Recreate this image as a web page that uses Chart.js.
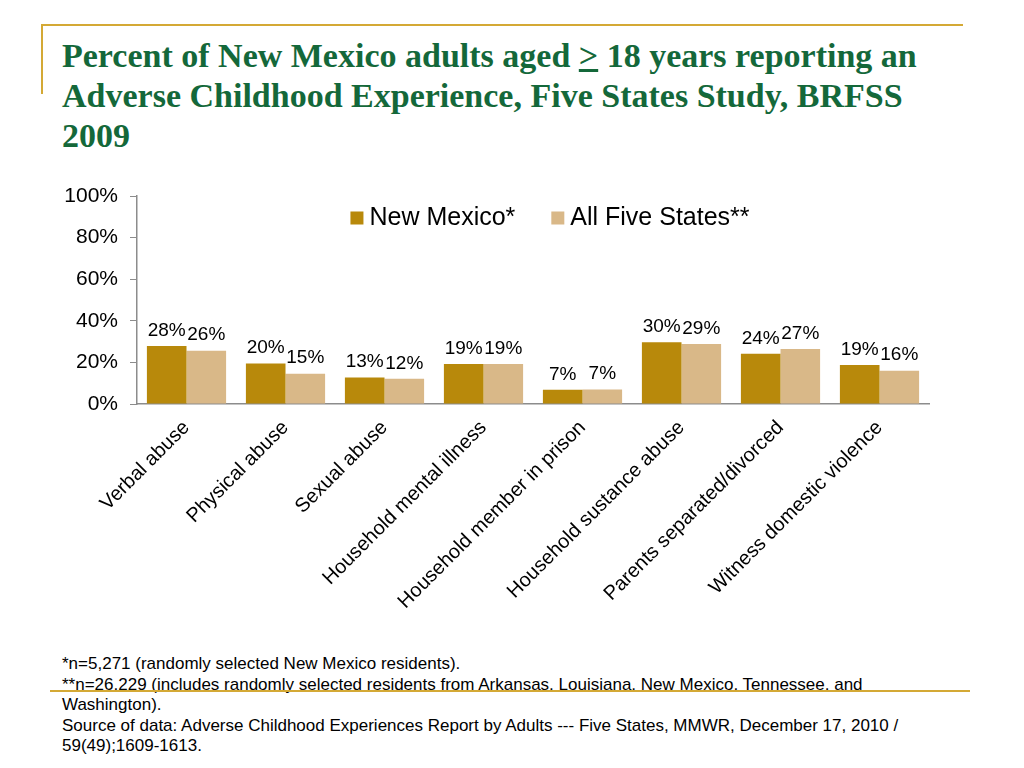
<!DOCTYPE html>
<html>
<head>
<meta charset="utf-8">
<script src="https://cdn.jsdelivr.net/npm/chart.js@4"></script>
<style>
  body { margin: 0; width: 1024px; height: 768px; background: #fff; position: relative; overflow: hidden; font-family: "Liberation Sans", Arial, sans-serif; }
  .gold { position: absolute; background: #d4a935; }
  #title { position: absolute; left: 62px; top: 36px; font-family: "Liberation Serif", "Times New Roman", serif; font-weight: bold; font-size: 34px; line-height: 40px; color: #14683a; white-space: nowrap; }
  #chartBox { position: absolute; left: 0; top: 170px; width: 1024px; height: 450px; }
  #notes { position: absolute; left: 62px; top: 654px; font-size: 17px; line-height: 20.5px; color: #000; white-space: nowrap; }
</style>
</head>
<body>
<div class="gold" style="left:42px; top:24px; width:921px; height:2px;"></div>
<div class="gold" style="left:41px; top:24px; width:2px; height:70px;"></div>

<div id="title">Percent of New Mexico adults aged <u>&gt;</u> 18 years reporting an<br>Adverse Childhood Experience, Five States Study, BRFSS<br>2009</div>

<div id="chartBox"><canvas id="aceChart"></canvas></div>

<div id="notes">*n=5,271 (randomly selected New Mexico residents).<br>**n=26,229 (includes randomly selected residents from Arkansas, Louisiana, New Mexico, Tennessee, and<br>Washington).<br>Source of data: Adverse Childhood Experiences Report by Adults --- Five States, MMWR, December 17, 2010 /<br>59(49);1609-1613.</div>

<div class="gold" style="left:50px; top:690px; width:920px; height:2px; z-index:2;"></div>

<script>
// data
const categories = ['Verbal abuse', 'Physical abuse', 'Sexual abuse', 'Household mental illness',
    'Household member in prison', 'Household sustance abuse', 'Parents separated/divorced', 'Witness domestic violence'];
const newMexico = [27.9, 19.5, 12.7, 19.2, 6.8, 29.7, 24.1, 18.7];
const fiveStates = [25.6, 14.6, 12.1, 19.2, 7.0, 28.9, 26.5, 16.0];
const yTicks = [0, 20, 40, 60, 80, 100];

const fontFamily = '"Liberation Sans", Arial, sans-serif';

// % labels above every bar
const barLabels = {
    id: 'barLabels',
    afterDatasetsDraw(chart) {
        const ctx = chart.ctx;
        ctx.save();
        ctx.font = '19px ' + fontFamily;
        ctx.fillStyle = '#000';
        ctx.textAlign = 'center';
        ctx.textBaseline = 'bottom';
        chart.data.datasets.forEach((ds, i) => {
            chart.getDatasetMeta(i).data.forEach((bar, j) => {
                ctx.fillText(Math.round(ds.data[j]) + '%', bar.x, bar.y - 6);
            });
        });
        ctx.restore();
    }
};

// one-row legend sitting inside the top of the plot area
const innerLegend = {
    id: 'innerLegend',
    afterDraw(chart) {
        const ctx = chart.ctx;
        const area = chart.chartArea;
        const box = 13, gap = 6, itemGap = 36;
        ctx.save();
        ctx.font = '25px ' + fontFamily;
        ctx.textBaseline = 'middle';
        ctx.textAlign = 'left';
        const items = chart.data.datasets.map(ds => ({
            text: ds.label, color: ds.backgroundColor, w: box + gap + ctx.measureText(ds.label).width
        }));
        const total = items.reduce((s, it) => s + it.w, 0) + itemGap * (items.length - 1);
        let x = (area.left + area.right) / 2 + 17 - total / 2;
        const y = area.top + 22;
        items.forEach(it => {
            ctx.fillStyle = it.color;
            ctx.fillRect(x, y - box / 2, box, box);
            ctx.fillStyle = '#000';
            ctx.fillText(it.text, x + box + gap, y);
            x += it.w + itemGap;
        });
        ctx.restore();
    }
};

const ctx = document.getElementById('aceChart').getContext('2d');
new Chart(ctx, {
    type: 'bar',
    data: {
        labels: categories,
        datasets: [{
            label: 'New Mexico*',
            data: newMexico,
            backgroundColor: '#b8890b',
            borderWidth: 0,
            categoryPercentage: 0.8,
            barPercentage: 1.0
        }, {
            label: 'All Five States**',
            data: fiveStates,
            backgroundColor: '#d9b888',
            borderWidth: 0,
            categoryPercentage: 0.8,
            barPercentage: 1.0
        }]
    },
    options: {
        responsive: true,
        maintainAspectRatio: false,
        animation: false,
        layout: { padding: { left: 40, right: 95, top: 26, bottom: 0 } },
        scales: {
            x: {
                grid: { display: false, drawTicks: false },
                border: { display: true, color: '#8c8c8c', width: 1.5 },
                ticks: {
                    autoSkip: false,
                    minRotation: 45,
                    maxRotation: 45,
                    padding: 12,
                    color: '#000',
                    font: { family: fontFamily, size: 20 }
                },
                afterFit(scale) { scale.height = 216; }
            },
            y: {
                min: 0,
                max: 100,
                afterBuildTicks(scale) { scale.ticks = yTicks.map(v => ({ value: v })); },
                grid: { drawOnChartArea: false, drawTicks: true, tickLength: 7, color: '#8c8c8c' },
                border: { display: true, color: '#8c8c8c', width: 1.5 },
                ticks: {
                    padding: 12,
                    color: '#000',
                    font: { family: fontFamily, size: 21 },
                    callback: v => v + '%'
                },
                afterFit(scale) { scale.width = 97; }
            }
        },
        plugins: {
            legend: { display: false },
            tooltip: { enabled: false }
        }
    },
    plugins: [barLabels, innerLegend]
});
</script>
</body>
</html>
